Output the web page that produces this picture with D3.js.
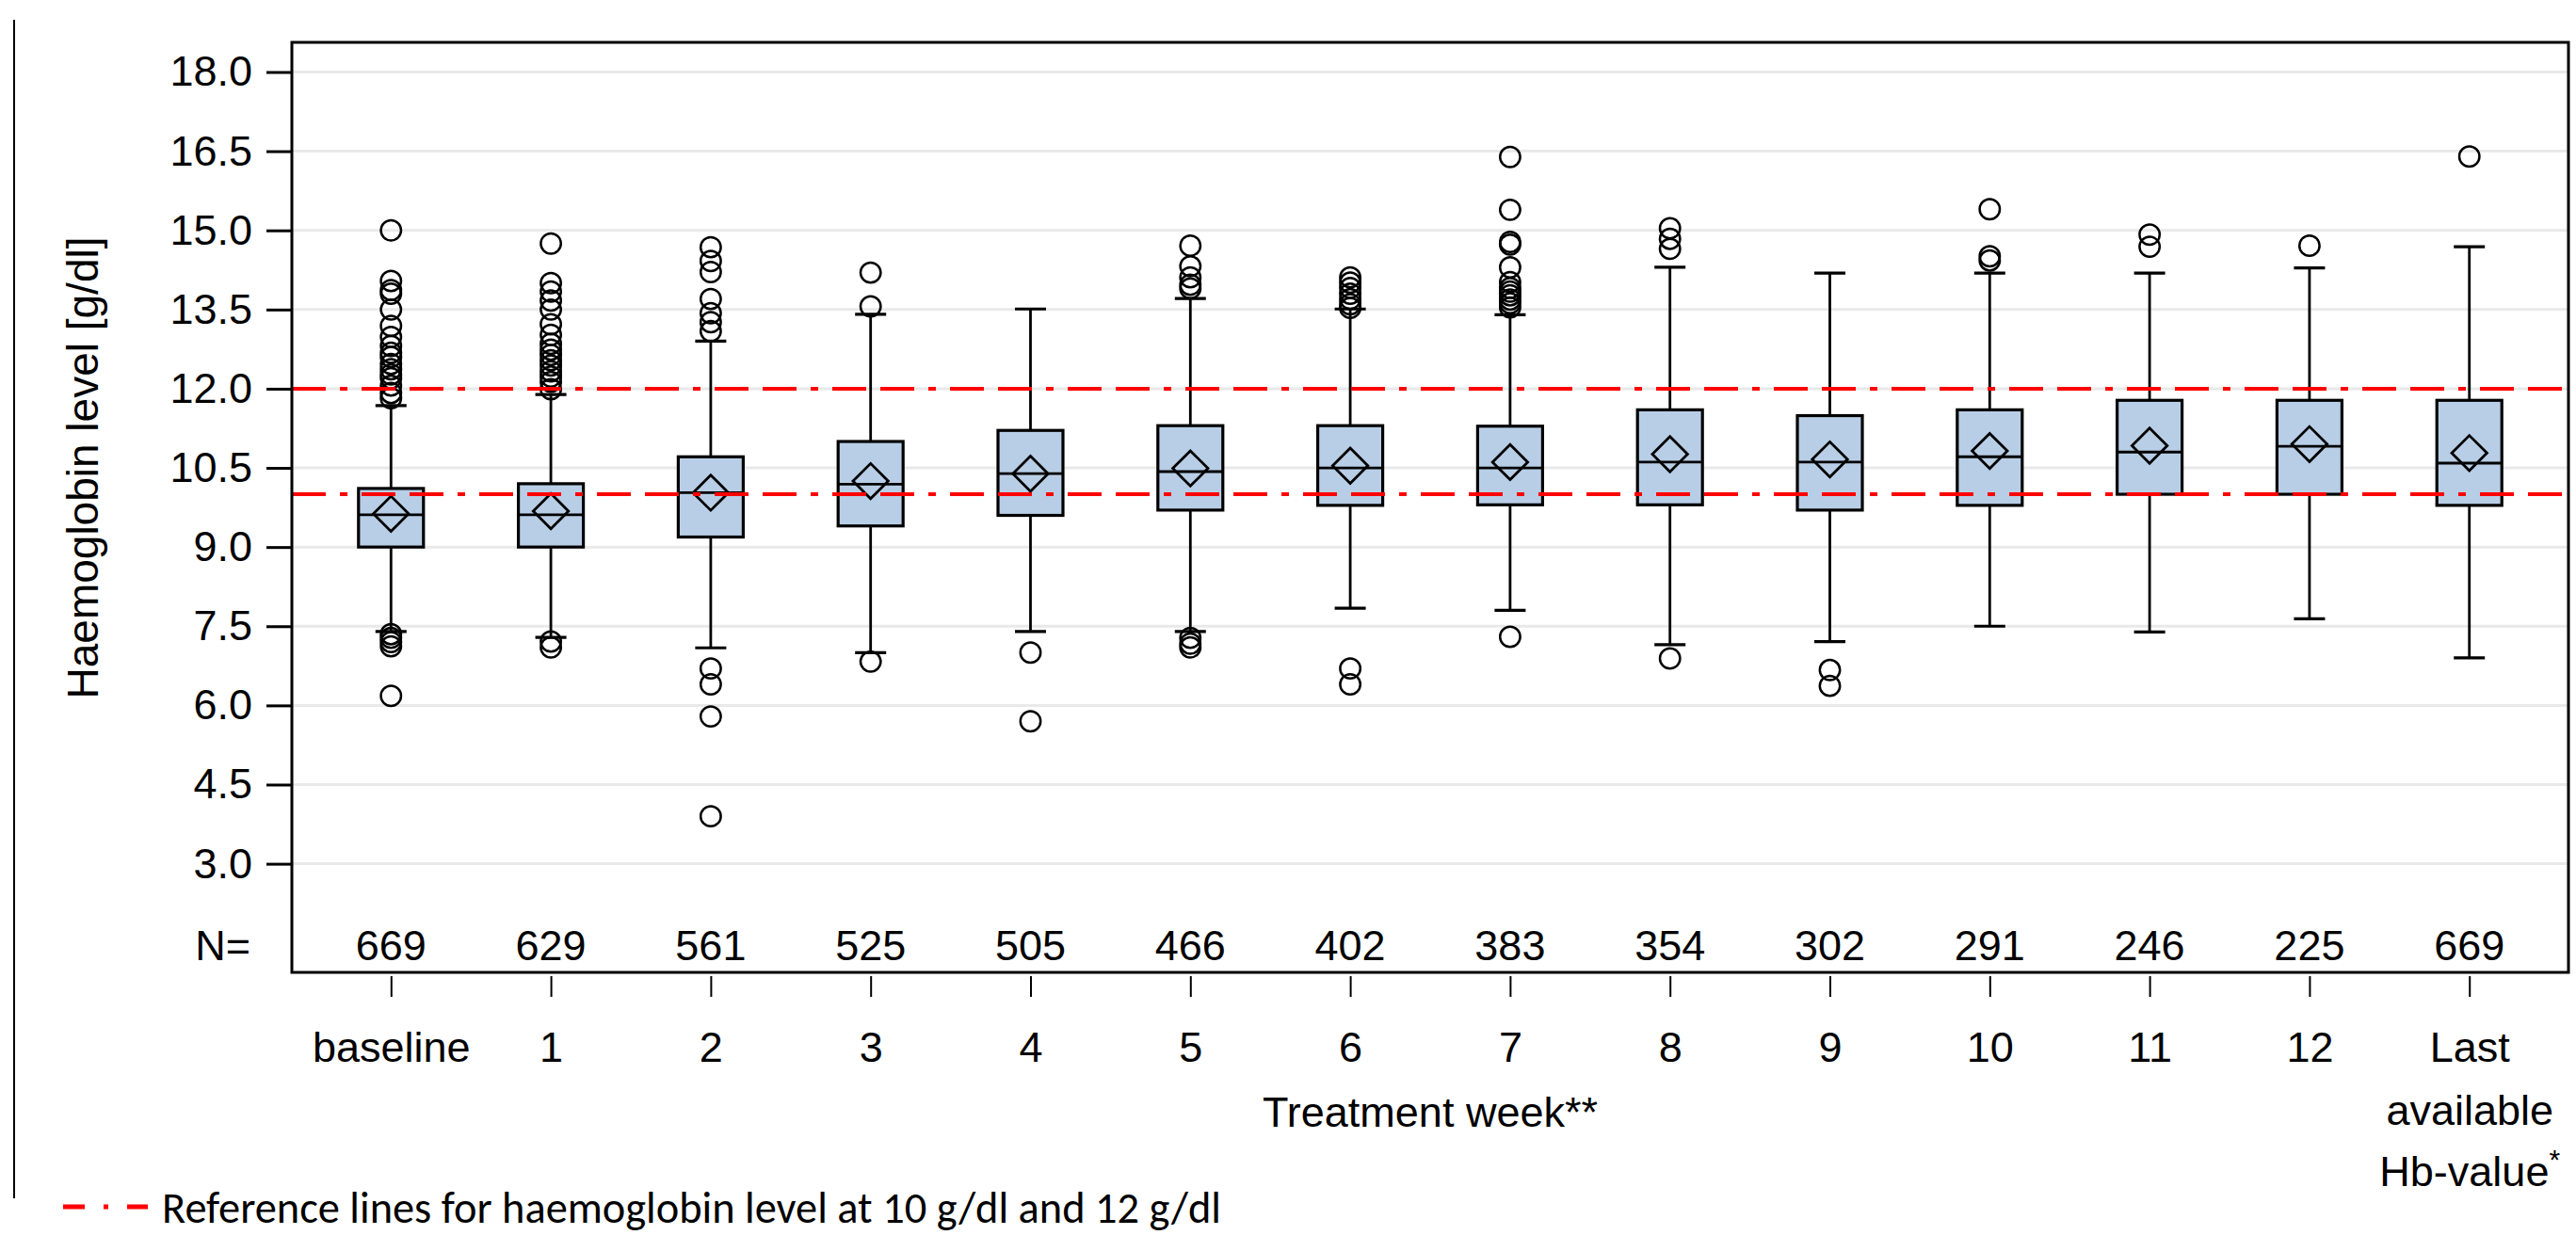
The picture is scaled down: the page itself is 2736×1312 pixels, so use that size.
<!DOCTYPE html>
<html>
<head>
<meta charset="utf-8">
<script src="https://cdn.jsdelivr.net/npm/d3@7"></script>
<style>
  body { margin: 0; background: #fff; }
  text { font-family: "Liberation Sans", Arial, sans-serif; fill: #000; }
</style>
</head>
<body>
<div id="chart"></div>
<script>
// categories on the x axis
const categories = ['baseline', '1', '2', '3', '4', '5', '6', '7', '8', '9', '10', '11', '12', 'Last'];
const nCounts = [669, 629, 561, 525, 505, 466, 402, 383, 354, 302, 291, 246, 225, 669];

// box statistics
const q1 =        [9.00, 9.00, 9.19, 9.40, 9.60, 9.70, 9.79, 9.80, 9.80, 9.70, 9.79, 10.00, 10.00, 9.79];
const medians =   [9.61, 9.61, 10.03, 10.19, 10.39, 10.43, 10.50, 10.50, 10.61, 10.61, 10.71, 10.80, 10.91, 10.59];
const q3 =        [10.11, 10.20, 10.71, 11.00, 11.21, 11.30, 11.30, 11.29, 11.60, 11.49, 11.60, 11.78, 11.78, 11.78];
const means =     [9.63, 9.68, 10.03, 10.25, 10.39, 10.49, 10.54, 10.61, 10.76, 10.66, 10.82, 10.92, 10.95, 10.78];
const whiskerLo = [7.40, 7.29, 7.09, 7.00, 7.40, 7.40, 7.84, 7.80, 7.15, 7.21, 7.50, 7.39, 7.64, 6.90];
const whiskerHi = [11.68, 11.89, 12.90, 13.41, 13.51, 13.71, 13.51, 13.40, 14.30, 14.19, 14.19, 14.19, 14.29, 14.69];
const outliers = [
  [15.0, 14.04, 13.87, 13.8, 13.5, 13.19, 12.98, 12.81, 12.68, 12.6, 12.47, 12.37, 12.27, 12.2, 12.06, 11.92, 11.82, 7.35, 7.28, 7.2, 7.12, 6.18],
  [14.75, 14.0, 13.84, 13.67, 13.5, 13.22, 13.02, 12.85, 12.74, 12.64, 12.54, 12.44, 12.33, 12.23, 12.13, 11.99, 7.21, 7.1],
  [14.68, 14.42, 14.21, 13.7, 13.43, 13.26, 13.09, 6.7, 6.4, 5.79, 3.9],
  [14.2, 13.56, 6.83],
  [7.0, 5.7],
  [14.71, 14.32, 14.11, 13.97, 13.9, 7.28, 7.17, 7.1],
  [14.11, 14.01, 13.91, 13.8, 13.7, 13.6, 13.53, 6.7, 6.4],
  [16.39, 15.39, 14.78, 14.73, 14.3, 14.02, 13.91, 13.84, 13.77, 13.69, 13.62, 13.54, 7.3],
  [15.04, 14.84, 14.65, 6.89],
  [6.67, 6.37],
  [15.4, 14.51, 14.43],
  [14.92, 14.69],
  [14.71],
  [16.4]
];

const yTicks = [3.0, 4.5, 6.0, 7.5, 9.0, 10.5, 12.0, 13.5, 15.0, 16.5, 18.0];
const refLevels = [10, 12];

//canvas
const W = 2736, H = 1312;
const frame = { left: 310, right: 2728, top: 45, bottom: 1033 };

const svg = d3.select('#chart')
  .append('svg')
  .attr('width', W)
  .attr('height', H);

//scales
const x = d3.scalePoint()
  .domain(categories)
  .range([frame.left, frame.right])
  .padding(0.62);

const y = d3.scaleLinear()
  .domain([3, 18])
  .range([917.6, 76.5]);

//title (only its lowest strokes show at the top edge of the picture)
svg.append('text')
  .attr('x', 62)
  .attr('y', -10)
  .attr('font-size', '52px')
  .attr('font-weight', 'bold')
  .style('font-family', 'Carlito, "Noto Sans", sans-serif')
  .text('Figure 2: Haemoglobin level [g/dl] by treatment week');

//thin rule on the far left
svg.append('line')
  .attr('x1', 15).attr('x2', 15)
  .attr('y1', 21).attr('y2', 1273)
  .attr('stroke', '#000')
  .attr('stroke-width', 2);

//grid lines
svg.append('g')
  .selectAll('line')
  .data(yTicks)
  .enter().append('line')
  .attr('x1', frame.left).attr('x2', frame.right)
  .attr('y1', d => y(d)).attr('y2', d => y(d))
  .attr('stroke', '#e9e9e9')
  .attr('stroke-width', 3);

//y axis
const yAxis = d3.axisLeft(y)
  .tickValues(yTicks)
  .tickFormat(d3.format('.1f'))
  .tickSize(27)
  .tickPadding(15);
const yG = svg.append('g')
  .attr('transform', `translate(${frame.left}, 0)`)
  .call(yAxis);
yG.select('.domain').remove();
yG.selectAll('.tick line').attr('stroke-width', 3);
yG.selectAll('.tick text')
  .attr('font-size', '45px')
  .style('font-family', '"Liberation Sans", Arial, sans-serif');

//y label
svg.append('text')
  .attr('transform', 'rotate(-90)')
  .attr('x', -497)
  .attr('y', 104)
  .attr('text-anchor', 'middle')
  .attr('font-size', '46px')
  .text('Haemoglobin level [g/dl]');

//x axis
const xAxis = d3.axisBottom(x)
  .tickSize(22)
  .tickPadding(37);
const xG = svg.append('g')
  .attr('transform', `translate(0, ${frame.bottom + 4})`)
  .call(xAxis);
xG.select('.domain').remove();
xG.selectAll('.tick line').attr('stroke-width', 2);
xG.selectAll('.tick text')
  .attr('font-size', '45px')
  .style('font-family', '"Liberation Sans", Arial, sans-serif');

// the last category label runs over three lines
const lastText = xG.selectAll('.tick text').filter(d => d === 'Last');
lastText.text(null);
lastText.append('tspan').attr('x', 0).text('Last');
lastText.append('tspan').attr('x', 0).attr('dy', 67).text('available');
lastText.append('tspan').attr('x', 0).attr('dy', 65).text('Hb-value');
lastText.append('tspan').attr('dy', -18).attr('font-size', '30px').text('*');

svg.append('text')
  .attr('x', (frame.left + frame.right) / 2)
  .attr('y', 1197)
  .attr('text-anchor', 'middle')
  .attr('font-size', '45px')
  .text('Treatment week**');

//N row
svg.append('text')
  .attr('x', 266)
  .attr('y', 1020)
  .attr('text-anchor', 'end')
  .attr('font-size', '45px')
  .text('N=');

svg.append('g')
  .selectAll('text')
  .data(categories)
  .enter().append('text')
  .attr('x', d => x(d))
  .attr('y', 1020)
  .attr('text-anchor', 'middle')
  .attr('font-size', '45px')
  .text((d, i) => nCounts[i]);

//boxes
const boxW = 69, capW = 33;
const boxes = svg.append('g')
  .selectAll('g')
  .data(categories)
  .enter().append('g')
  .attr('transform', d => `translate(${x(d)}, 0)`);

boxes.append('line')
  .attr('y1', (d, i) => y(whiskerLo[i]))
  .attr('y2', (d, i) => y(whiskerHi[i]))
  .attr('stroke', '#000').attr('stroke-width', 2.8);

boxes.append('line')
  .attr('x1', -capW / 2).attr('x2', capW / 2)
  .attr('y1', (d, i) => y(whiskerLo[i])).attr('y2', (d, i) => y(whiskerLo[i]))
  .attr('stroke', '#000').attr('stroke-width', 3.2);

boxes.append('line')
  .attr('x1', -capW / 2).attr('x2', capW / 2)
  .attr('y1', (d, i) => y(whiskerHi[i])).attr('y2', (d, i) => y(whiskerHi[i]))
  .attr('stroke', '#000').attr('stroke-width', 3.2);

boxes.append('rect')
  .attr('x', -boxW / 2)
  .attr('width', boxW)
  .attr('y', (d, i) => y(q3[i]))
  .attr('height', (d, i) => y(q1[i]) - y(q3[i]))
  .attr('fill', '#b8cee6')
  .attr('stroke', '#000')
  .attr('stroke-width', 3.2);

boxes.append('line')
  .attr('x1', -boxW / 2).attr('x2', boxW / 2)
  .attr('y1', (d, i) => y(medians[i])).attr('y2', (d, i) => y(medians[i]))
  .attr('stroke', '#000').attr('stroke-width', 2.8);

// mean shown as a diamond
boxes.append('path')
  .attr('d', d3.symbol(d3.symbolSquare, 700))
  .attr('transform', (d, i) => `translate(0, ${y(means[i])}) rotate(45)`)
  .attr('fill', 'none')
  .attr('stroke', '#000')
  .attr('stroke-width', 2.8);

boxes.selectAll('circle')
  .data((d, i) => outliers[i])
  .enter().append('circle')
  .attr('cy', v => y(v))
  .attr('r', 10.7)
  .attr('fill', 'none')
  .attr('stroke', '#000')
  .attr('stroke-width', 2.5);

//reference lines
svg.append('g')
  .selectAll('line')
  .data(refLevels)
  .enter().append('line')
  .attr('x1', frame.left).attr('x2', frame.right)
  .attr('y1', d => y(d)).attr('y2', d => y(d))
  .attr('stroke', '#ff0000')
  .attr('stroke-width', 4)
  .attr('stroke-dasharray', '36,15,8,15,36,15');

//frame
svg.append('rect')
  .attr('x', frame.left).attr('y', frame.top)
  .attr('width', frame.right - frame.left)
  .attr('height', frame.bottom - frame.top)
  .attr('fill', 'none')
  .attr('stroke', '#000')
  .attr('stroke-width', 3);

//legend
const legend = svg.append('g').attr('transform', 'translate(67, 1282)');
legend.append('line')
  .attr('x1', 0).attr('x2', 90)
  .attr('stroke', '#ff0000')
  .attr('stroke-width', 5)
  .attr('stroke-dasharray', '23,20,5,20,23');
legend.append('text')
  .attr('x', 105)
  .attr('y', 17)
  .attr('font-size', '48px')
  .attr('textLength', 1125)
  .attr('lengthAdjust', 'spacingAndGlyphs')
  .style('font-family', 'Carlito, "Noto Sans", sans-serif')
  .text('Reference lines for haemoglobin level at 10 g/dl and 12 g/dl');
</script>
</body>
</html>
